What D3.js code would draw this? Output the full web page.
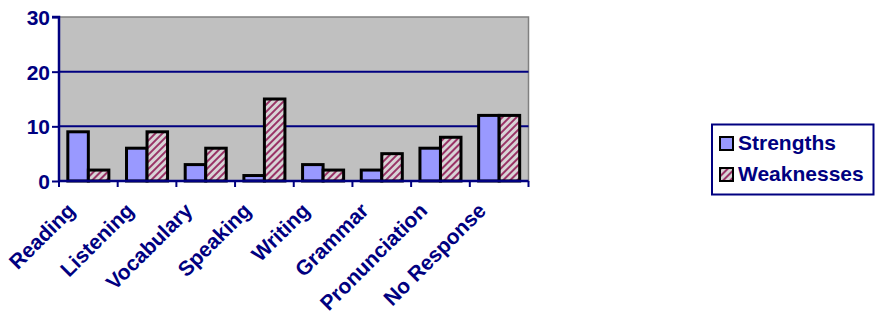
<!DOCTYPE html>
<html><head><meta charset="utf-8">
<script src="https://cdn.jsdelivr.net/npm/d3@7"></script>
<style>body{margin:0;background:#fff;}svg{display:block;} text{font-family:"Liberation Sans",Arial,sans-serif !important;font-weight:700 !important;font-size:21px !important;}</style>
</head><body>
<script>
const categories = ["Reading","Listening","Vocabulary","Speaking","Writing","Grammar","Pronunciation","No Response"];
const seriesNames = ["Strengths","Weaknesses"];
const strengths = [9,6,3,1,3,2,6,12];
const weaknesses = [2,9,6,15,2,5,8,12];
const yTicks = [0,10,20,30];

const W=875,H=314;
const svg=d3.select("body").append("svg").attr("width",W).attr("height",H);
const defs=svg.append("defs");
const pat=defs.append("pattern").attr("id","hatch").attr("patternUnits","userSpaceOnUse")
  .attr("width",5).attr("height",5).attr("patternTransform","rotate(45)");
pat.append("rect").attr("width",5).attr("height",5).attr("fill","#d8d4d6");
pat.append("rect").attr("width",2).attr("height",5).attr("fill","#993366");

const x0=59,x1=528.5,yTop=17,yBot=181;
const x=d3.scaleBand().domain(categories).range([x0,x1]).paddingInner(0).paddingOuter(0);
const xs=d3.scaleBand().domain(seriesNames).range([0,x.bandwidth()]).paddingInner(0).paddingOuter(0.43);
const y=d3.scaleLinear().domain([0,30]).range([yBot,yTop]);

// plot area
svg.append("rect").attr("x",x0).attr("y",yTop).attr("width",x1-x0).attr("height",yBot-yTop)
  .attr("fill","#c0c0c0").attr("stroke","#808080").attr("stroke-width",1.5);
// gridlines
svg.append("g").selectAll("line").data(yTicks.filter(d=>d>0&&d<30)).join("line")
  .attr("x1",x0).attr("x2",x1).attr("y1",d=>y(d)).attr("y2",d=>y(d))
  .attr("stroke","#000080").attr("stroke-width",2);

// bars
const data=categories.map((c,i)=>({c,vals:[{s:"Strengths",v:strengths[i]},{s:"Weaknesses",v:weaknesses[i]}]}));
const g=svg.append("g");
g.selectAll("g").data(data).join("g").attr("transform",d=>`translate(${x(d.c)},0)`)
  .selectAll("rect").data(d=>d.vals).join("rect")
  .attr("x",d=>xs(d.s)).attr("width",xs.bandwidth())
  .attr("y",d=>y(d.v)).attr("height",d=>yBot-y(d.v))
  .attr("fill",d=>d.s==="Strengths"?"#9999ff":"url(#hatch)")
  .attr("stroke","#000").attr("stroke-width",3);

// axes
const yAxis=d3.axisLeft(y).tickValues(yTicks).tickSize(7).tickPadding(2);
const ya=svg.append("g").attr("transform",`translate(${x0},0)`).call(yAxis);
ya.select(".domain").attr("stroke","#000080").attr("stroke-width",2.5).attr("d",`M-7,${yTop}H0V${yBot}`);
ya.selectAll(".tick line").attr("stroke","#000080").attr("stroke-width",2);
ya.selectAll("text").attr("fill","#000080").attr("dy","0.36em");

const bounds=d3.range(categories.length+1).map(i=>x0+i*x.bandwidth());
svg.append("line").attr("x1",x0).attr("x2",x1).attr("y1",yBot).attr("y2",yBot).attr("stroke","#000080").attr("stroke-width",2.5);
svg.append("g").selectAll("line").data(bounds).join("line")
  .attr("x1",d=>d).attr("x2",d=>d).attr("y1",yBot).attr("y2",yBot+6)
  .attr("stroke","#000080").attr("stroke-width",2);
svg.append("g").selectAll("text").data(categories).join("text")
  .attr("transform",d=>`translate(${x(d)+x.bandwidth()/2-12},${yBot+31}) rotate(-45)`)
  .attr("text-anchor","end").attr("fill","#000080").text(d=>d);

// legend
const lg=svg.append("g");
lg.append("rect").attr("x",712).attr("y",124.5).attr("width",161.5).attr("height",70)
  .attr("fill","#fff").attr("stroke","#000080").attr("stroke-width",2);
const items=lg.selectAll("g").data(seriesNames).join("g").attr("transform",(d,i)=>`translate(720,${137+i*31})`);
items.append("rect").attr("width",13).attr("height",13)
  .attr("fill",d=>d==="Strengths"?"#9999ff":"url(#hatch)").attr("stroke","#000").attr("stroke-width",2);
items.append("text").attr("x",18).attr("y",13).attr("fill","#000080").text(d=>d);
</script>
</body></html>
